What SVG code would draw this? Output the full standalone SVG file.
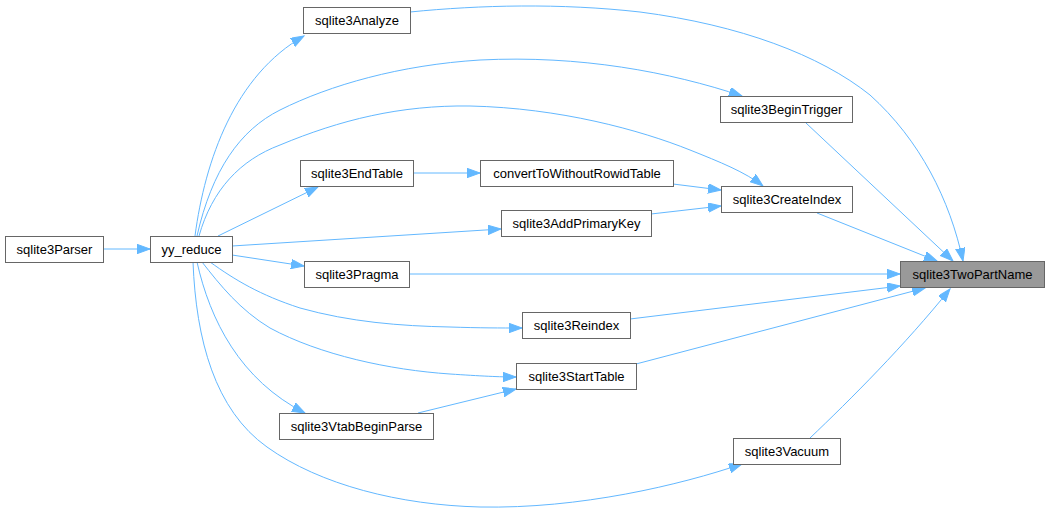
<svg xmlns="http://www.w3.org/2000/svg" width="1049" height="512" viewBox="0 0 1049 512">
<style>
.n rect{fill:#ffffff;stroke:#666666;stroke-width:1}
.n.hl rect{fill:#999999}
.n text{font-family:"Liberation Sans",Arial,sans-serif;font-size:13px;fill:#000000;text-anchor:middle}
.e path{fill:none;stroke:#63b8ff;stroke-width:1;marker-end:url(#ah)}
</style>
<defs>
<marker id="ah" markerUnits="userSpaceOnUse" markerWidth="14" markerHeight="10" refX="13" refY="4.7" orient="auto">
<path d="M0,0 L13,4.7 L0,9.4 z" fill="#63b8ff" stroke="#63b8ff" stroke-width="1"/>
</marker>
</defs>
<rect width="1049" height="512" fill="#ffffff"/>
<g id="connectors" class="e">
<path d="M103,249 L150,249"/>
<path d="M195,236 C205,160 235,75 304,36"/>
<path d="M197,236 C212,170 240,130 280,110 C330,85 400,65 480,60 C580,55 670,72 742,96"/>
<path d="M199,236 C212,190 240,160 280,145 C340,120 400,105 470,106 C560,108 640,130 690,150 C720,162 745,172 763,186"/>
<path d="M218,236 L318,187"/>
<path d="M413,173 L480,173"/>
<path d="M673,184 L721,190"/>
<path d="M232,246 L501,229"/>
<path d="M651,214 L721,206"/>
<path d="M232,255 L304,266"/>
<path d="M210,262 C235,280 260,295 300,308 C350,322 400,326 450,327 C480,328 500,328 522,328"/>
<path d="M202,262 C220,285 240,310 270,328 C320,355 390,370 450,374 C480,376 500,377 516,377"/>
<path d="M197,262 C210,320 240,380 305,413"/>
<path d="M193,262 C196,340 215,410 267,447 C320,485 400,505 480,507 C580,509 680,485 742,464"/>
<path d="M418,413 L516,389"/>
<path d="M410,12 C480,5 560,3 640,12 C740,25 820,55 870,95 C920,140 950,200 963,261"/>
<path d="M806,123 L953,261"/>
<path d="M817,213 L937,261"/>
<path d="M409,274 L900,274"/>
<path d="M630,319 L900,286"/>
<path d="M636,364 L925,288"/>
<path d="M810,438 C850,400 905,345 950,289"/>
</g>
<g id="sqlite3Parser" class="n"><rect x="5.5" y="236.5" width="98" height="26"/><text x="54.5" y="254">sqlite3Parser</text></g>
<g id="yy_reduce" class="n"><rect x="150.5" y="236.5" width="82" height="26"/><text x="191.5" y="254">yy_reduce</text></g>
<g id="sqlite3Analyze" class="n"><rect x="303.5" y="7.5" width="107" height="26"/><text x="357" y="25">sqlite3Analyze</text></g>
<g id="sqlite3BeginTrigger" class="n"><rect x="720.5" y="96.5" width="132" height="26"/><text x="786.5" y="114">sqlite3BeginTrigger</text></g>
<g id="sqlite3EndTable" class="n"><rect x="300.5" y="160.5" width="113" height="26"/><text x="357" y="178">sqlite3EndTable</text></g>
<g id="convertToWithoutRowidTable" class="n"><rect x="480.5" y="160.5" width="193" height="26"/><text x="577" y="178">convertToWithoutRowidTable</text></g>
<g id="sqlite3CreateIndex" class="n"><rect x="721.5" y="186.5" width="131" height="26"/><text x="787" y="204">sqlite3CreateIndex</text></g>
<g id="sqlite3AddPrimaryKey" class="n"><rect x="501.5" y="210.5" width="150" height="26"/><text x="576.5" y="228">sqlite3AddPrimaryKey</text></g>
<g id="sqlite3TwoPartName" class="n hl"><rect x="900.5" y="261.5" width="144" height="26"/><text x="972.5" y="279">sqlite3TwoPartName</text></g>
<g id="sqlite3Pragma" class="n"><rect x="304.5" y="261.5" width="105" height="26"/><text x="357" y="279">sqlite3Pragma</text></g>
<g id="sqlite3Reindex" class="n"><rect x="522.5" y="312.5" width="108" height="26"/><text x="576.5" y="330">sqlite3Reindex</text></g>
<g id="sqlite3StartTable" class="n"><rect x="516.5" y="363.5" width="120" height="26"/><text x="576.5" y="381">sqlite3StartTable</text></g>
<g id="sqlite3VtabBeginParse" class="n"><rect x="279.5" y="413.5" width="154" height="26"/><text x="356.5" y="431">sqlite3VtabBeginParse</text></g>
<g id="sqlite3Vacuum" class="n"><rect x="733.5" y="438.5" width="107" height="26"/><text x="787" y="456">sqlite3Vacuum</text></g>
</svg>
